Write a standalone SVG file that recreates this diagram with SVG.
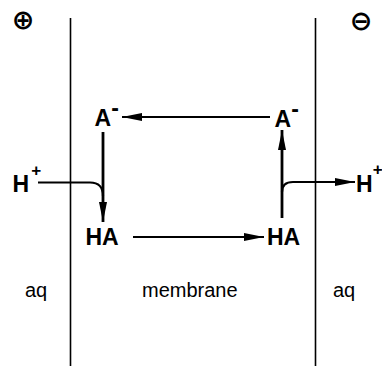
<svg xmlns="http://www.w3.org/2000/svg" width="382" height="367" viewBox="0 0 382 367">
<defs>
<style>
.lbl{font-family:"Liberation Sans",Arial,sans-serif;font-weight:bold;font-size:23px;fill:#000}
.sup{font-size:17px}
.reg{font-family:"Liberation Sans",Arial,sans-serif;font-size:20px;fill:#000}
.sym{font-family:"DejaVu Sans",sans-serif;font-weight:bold;font-size:27px;fill:#000}
.wall{stroke:#000;stroke-width:1.6;fill:none}
.arr{stroke:#000;stroke-width:2.2;fill:none;marker-end:url(#ah)}
.arrv{stroke:#000;stroke-width:2.8;fill:none;marker-end:url(#ah)}
.cur{stroke:#000;stroke-width:2.2;fill:none}
</style>
<marker id="ah" viewBox="0 0 20 8" refX="20" refY="4" markerWidth="20" markerHeight="8" markerUnits="userSpaceOnUse" orient="auto">
<path d="M0,0 L20,4 L0,8 Z" fill="#000"/>
</marker>
</defs>
<rect width="382" height="367" fill="#fff"/>
<g id="membrane-walls">
<line class="wall" x1="70.5" y1="18" x2="70.5" y2="366"/>
<line class="wall" x1="315.5" y1="18" x2="315.5" y2="366"/>
</g>
<g id="plus-pole"><text class="sym" x="23" y="28.8" text-anchor="middle">⊕</text></g>
<g id="minus-pole"><text class="sym" x="361" y="30.3" text-anchor="middle">⊖</text></g>
<g id="a-left"><text class="lbl" x="94.5" y="126">A<tspan dy="-10">-</tspan></text></g>
<g id="a-right"><text class="lbl" x="274.5" y="126.5">A<tspan dy="-10">-</tspan></text></g>
<g id="ha-left"><text class="lbl" x="85.5" y="244.5">HA</text></g>
<g id="ha-right"><text class="lbl" x="267" y="245">HA</text></g>
<g id="h-left"><text class="lbl" x="12.5" y="191.5">H<tspan class="sup" dx="2" dy="-15.5">+</tspan></text></g>
<g id="h-right"><text class="lbl" x="356" y="191.5">H<tspan class="sup" dx="0" dy="-16.5">+</tspan></text></g>
<g id="aq-left"><text class="reg" x="25" y="297">aq</text></g>
<g id="aq-right"><text class="reg" x="333" y="297">aq</text></g>
<g id="membrane-label"><text class="reg" x="142" y="297">membrane</text></g>
<g id="connectors">
<line class="arr" x1="270" y1="117" x2="122" y2="117"/>
<line class="arr" x1="133" y1="237" x2="264" y2="237"/>
<line class="arrv" x1="103" y1="132" x2="103" y2="222"/>
<line class="arrv" x1="282" y1="218" x2="282" y2="130"/>
<path class="cur" d="M38,182.5 H90 Q103,182.5 103,196"/>
<path class="cur" d="M282,192 Q282,182 293,182 H300" />
<line class="arr" x1="299" y1="182" x2="355" y2="182"/>
</g>
</svg>
